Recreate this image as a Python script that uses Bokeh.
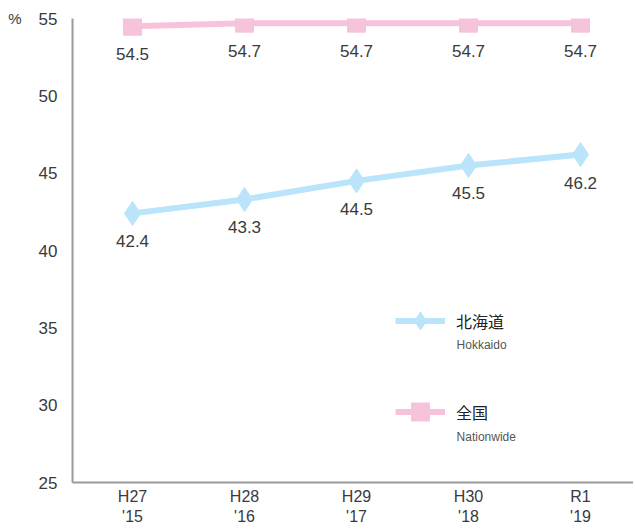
from bokeh.plotting import figure
from bokeh.models import (ColumnDataSource, Range1d, Legend, LegendItem, Label, FixedTicker,
                          LinearAxis)
from bokeh.core.properties import value
from bokeh.embed import file_html
from bokeh.resources import INLINE

years = ["H27\n'15", "H28\n'16", "H29\n'17", "H30\n'18", "R1\n'19"]
hokkaido = [42.4, 43.3, 44.5, 45.5, 46.2]
nationwide = [54.5, 54.7, 54.7, 54.7, 54.7]
y_ticks = [25, 30, 35, 40, 45, 50, 55]
unit_label = "%"

BLUE = "#b9e4f9"
PINK = "#f6c3db"
TXT = "#3a3a3a"
FONT = "Liberation Sans"
CJK = "Noto Sans CJK JP"

xs = list(range(len(years)))
src_h = ColumnDataSource(dict(x=xs, y=hokkaido, t=[f"{v:.1f}" for v in hokkaido]))
src_n = ColumnDataSource(dict(x=xs, y=nationwide, t=[f"{v:.1f}" for v in nationwide]))

p = figure(width=633, height=528, output_backend="svg", toolbar_location=None,
           x_range=Range1d(-0.536, 4.473), y_range=Range1d(25, 55),
           min_border_left=72, min_border_right=0, min_border_top=18, min_border_bottom=46)
p.outline_line_color = None
p.xgrid.grid_line_color = None
p.ygrid.grid_line_color = None
p.background_fill_color = "white"
p.border_fill_color = "white"

for ax in (p.xaxis[0], p.yaxis[0]):
    ax.axis_line_color = "#9a9a9a"
    ax.axis_line_width = 2
    ax.major_tick_line_color = None
    ax.minor_tick_line_color = None
    ax.major_tick_out = 0
    ax.major_tick_in = 0
    ax.major_label_text_font = FONT
    ax.major_label_text_color = TXT
    ax.major_label_text_font_size = "17px"

p.yaxis[0].ticker = FixedTicker(ticks=y_ticks)
p.yaxis[0].major_label_standoff = 15
p.xaxis[0].ticker = FixedTicker(ticks=xs)
p.xaxis[0].major_label_overrides = {i: s for i, s in enumerate(years)}
p.xaxis[0].major_label_standoff = 5
p.xaxis[0].major_label_text_font_size = "16px"
p.xaxis[0].major_label_text_line_height = 1.2

# unit label as an outer left axis with a single tick at the top
unit_axis = LinearAxis(ticker=FixedTicker(ticks=[y_ticks[-1]]),
                       major_label_overrides={y_ticks[-1]: unit_label},
                       axis_line_color=None, major_tick_line_color=None,
                       minor_tick_line_color=None, major_tick_out=0, major_tick_in=0,
                       major_label_standoff=14, major_label_text_font=FONT,
                       major_label_text_font_size="15px", major_label_text_color=TXT)
p.add_layout(unit_axis, "left")

ln_n = p.line("x", "y", source=src_n, line_color=PINK, line_width=6)
sc_n = p.scatter("x", "y", source=src_n, marker="square", size=18, fill_color=PINK, line_color=PINK)
ln_h = p.line("x", "y", source=src_h, line_color=BLUE, line_width=6)
sc_h = p.scatter("x", "y", source=src_h, marker="diamond", size=24, fill_color=BLUE, line_color=BLUE)

for src in (src_h, src_n):
    p.text("x", "y", text="t", source=src, text_align="center", text_baseline="middle",
           y_offset=28, text_font=value(FONT), text_font_size="17px", text_color=TXT)

legend = Legend(items=[LegendItem(label="北海道", renderers=[ln_h, sc_h]),
                       LegendItem(label="全国", renderers=[ln_n, sc_n])],
                location=(323, 48), orientation="vertical",
                glyph_width=50, glyph_height=45, label_height=45, spacing=46,
                padding=0, margin=0, label_standoff=11,
                border_line_color=None, background_fill_alpha=0,
                label_text_font=CJK, label_text_font_size="16px", label_text_color="#222222")
p.add_layout(legend, "center")

for txt, yy in (("Hokkaido", 33.92), ("Nationwide", 27.97)):
    p.add_layout(Label(x=2.893, y=yy, text=txt, text_font=FONT, text_font_size="12px",
                       text_color="#555555", text_baseline="middle", text_align="left"))

open("out.html", "w").write(file_html(p, INLINE))
